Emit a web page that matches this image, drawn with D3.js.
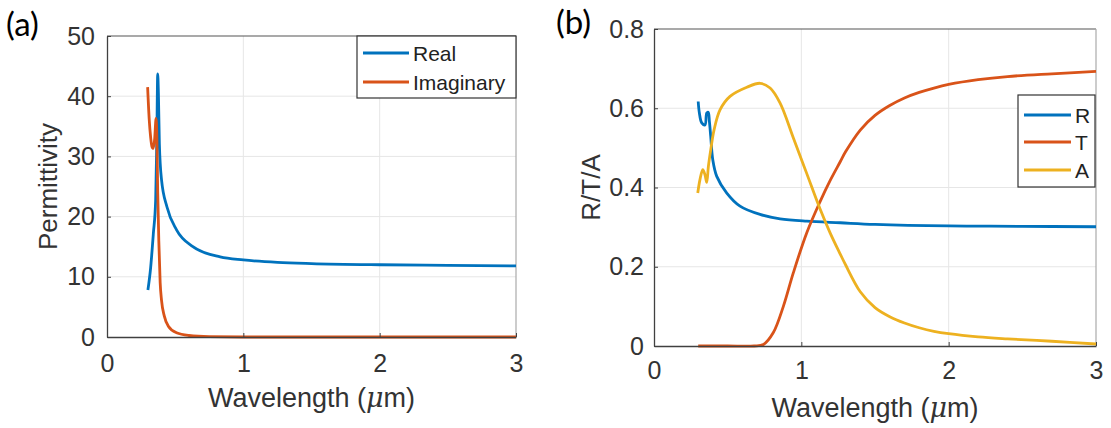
<!DOCTYPE html>
<html>
<head>
<meta charset="utf-8">
<script src="https://cdn.jsdelivr.net/npm/d3@7"></script>
<style>
body { margin: 0; background: #fff; }
</style>
</head>
<body>
<script>
// panel (a) data: permittivity
var realWl = [0.30, 0.32, 0.34, 0.357, 0.365, 0.372, 0.377, 0.384, 0.40, 0.44, 0.51, 0.63, 0.83, 1.0, 1.25, 1.5, 2.0, 2.5, 3.0];
var realVal = [7.8, 11.5, 17.2, 22.8, 32, 43.7, 40.5, 32.2, 26.1, 21.6, 17.8, 15.0, 13.3, 12.8, 12.4, 12.2, 12.0, 11.9, 11.8];
var imagWl = [0.298, 0.31, 0.32, 0.33, 0.338, 0.35, 0.36, 0.366, 0.372, 0.38, 0.39, 0.40, 0.42, 0.45, 0.51, 0.6, 0.75, 1.0, 2.0, 3.0];
var imagVal = [41.5, 36, 33.2, 31.6, 31.3, 33, 36.3, 33, 24, 16, 9, 6.1, 3.5, 1.8, 0.7, 0.25, 0.05, 0, 0, 0];

// panel (b) data: R/T/A
var rWl = [0.30, 0.308, 0.324, 0.346, 0.358, 0.368, 0.376, 0.385, 0.399, 0.426, 0.494, 0.584, 0.72, 0.856, 1.037, 1.264, 1.5, 2.0, 2.5, 3.0];
var rVal = [0.617, 0.588, 0.563, 0.558, 0.588, 0.59, 0.567, 0.529, 0.47, 0.428, 0.386, 0.353, 0.332, 0.321, 0.315, 0.311, 0.307, 0.303, 0.302, 0.301];
var tWl = [0.30, 0.5, 0.68, 0.743, 0.81, 0.878, 0.946, 1.037, 1.128, 1.196, 1.264, 1.3, 1.4, 1.5, 1.6, 1.7, 1.8, 1.9, 2.0, 2.2, 2.4, 2.7, 3.0];
var tVal = [0, 0, 0, 0.004, 0.034, 0.1, 0.185, 0.286, 0.365, 0.418, 0.465, 0.49, 0.545, 0.582, 0.607, 0.626, 0.64, 0.651, 0.66, 0.672, 0.68, 0.687, 0.693];
var aWl = [0.297, 0.312, 0.331, 0.346, 0.358, 0.369, 0.385, 0.408, 0.448, 0.516, 0.63, 0.72, 0.788, 0.856, 0.946, 1.037, 1.128, 1.196, 1.264, 1.3, 1.4, 1.5, 1.6, 1.7, 1.8, 1.9, 2.0, 2.2, 2.4, 2.7, 3.0];
var aVal = [0.386, 0.42, 0.445, 0.432, 0.413, 0.453, 0.495, 0.546, 0.596, 0.63, 0.653, 0.663, 0.651, 0.613, 0.525, 0.435, 0.345, 0.285, 0.232, 0.205, 0.137, 0.097, 0.074, 0.058, 0.046, 0.037, 0.031, 0.023, 0.018, 0.012, 0.005];

var xTicks = [0, 1, 2, 3];
var aTicks = [0, 10, 20, 30, 40, 50];
var bTicks = [0, 0.2, 0.4, 0.6, 0.8];

var blue = "#0072bd", orange = "#d95319", yellow = "#edb120";
var font = "'Liberation Sans', Arial, sans-serif";

var svg = d3.select("body")
	.append("svg")
	.attr("width", 1111)
	.attr("height", 428);

function zip(xs, ys) {
	return xs.map(function(x, i) { return [x, ys[i]]; });
}

function drawPanel(p) {
	var x = d3.scaleLinear().domain([0, 3]).range([p.left, p.right]);
	var y = d3.scaleLinear().domain(p.yDomain).range([p.bottom, p.top]);
	var g = svg.append("g");

	// grid
	g.selectAll(".gx").data(xTicks.slice(1, -1)).enter().append("line")
		.attr("x1", function(d) { return x(d); })
		.attr("x2", function(d) { return x(d); })
		.attr("y1", p.top).attr("y2", p.bottom)
		.attr("stroke", "#e6e6e6").attr("stroke-width", 1);
	g.selectAll(".gy").data(p.yTicks.slice(1, -1)).enter().append("line")
		.attr("y1", function(d) { return y(d); })
		.attr("y2", function(d) { return y(d); })
		.attr("x1", p.left).attr("x2", p.right)
		.attr("stroke", "#e6e6e6").attr("stroke-width", 1);

	// box top / right
	g.append("line").attr("x1", p.left).attr("x2", p.right).attr("y1", p.top).attr("y2", p.top)
		.attr("stroke", "#555").attr("stroke-width", 1.2);
	g.append("line").attr("x1", p.right).attr("x2", p.right).attr("y1", p.top).attr("y2", p.bottom)
		.attr("stroke", "#aaa").attr("stroke-width", 1.2);

	var line = d3.line()
		.x(function(d) { return x(d[0]); })
		.y(function(d) { return y(d[1]); })
		.curve(p.curve);

	p.series.forEach(function(s) {
		g.append("path")
			.attr("d", line(zip(s.wl, s.val)))
			.attr("fill", "none")
			.attr("stroke", s.color)
			.attr("stroke-width", 2.8)
			.attr("stroke-linejoin", "round");
	});

	var xAxis = g.append("g")
		.attr("transform", "translate(0," + p.bottom + ")")
		.call(d3.axisBottom(x).tickValues(xTicks).tickFormat(d3.format("d"))
			.tickSizeInner(-4).tickSizeOuter(0).tickPadding(p.xPad));
	var yAxis = g.append("g")
		.attr("transform", "translate(" + p.left + ",0)")
		.call(d3.axisLeft(y).tickValues(p.yTicks).tickFormat(p.yFormat)
			.tickSizeInner(-4).tickSizeOuter(0).tickPadding(p.yPad));
	[xAxis, yAxis].forEach(function(a) {
		a.select(".domain").attr("stroke", "#404040").attr("stroke-width", 1.3);
		a.selectAll(".tick line").attr("stroke", "#404040");
		a.selectAll("text").attr("font-family", font).attr("font-size", "25px").attr("fill", "#333");
	});

	// axis labels
	var xl = g.append("text")
		.attr("x", (p.left + p.right) / 2)
		.attr("y", p.xLabelY)
		.attr("text-anchor", "middle")
		.attr("font-family", font)
		.attr("font-size", "27px")
		.attr("fill", "#333");
	xl.append("tspan").text("Wavelength (");
	xl.append("tspan").text("μ").attr("font-style", "italic").attr("font-family", "'DejaVu Serif', serif");
	xl.append("tspan").text("m)");

	g.append("text")
		.attr("transform", "translate(" + p.yLabelX + "," + (p.top + p.bottom) / 2 + ") rotate(-90)")
		.attr("text-anchor", "middle")
		.attr("font-family", font)
		.attr("font-size", "26px")
		.attr("fill", "#333")
		.text(p.yLabel);

	// panel tag
	g.append("text")
		.attr("x", p.tagX).attr("y", p.tagY)
		.attr("font-family", "Lato, 'Open Sans', sans-serif")
		.attr("font-size", "33px")
		.attr("fill", "#000")
		.text(p.tag);

	// legend
	var L = p.legend;
	g.append("rect")
		.attr("x", L.x).attr("y", L.y).attr("width", L.w).attr("height", L.h)
		.attr("fill", "#fff").attr("stroke", "#333").attr("stroke-width", 1.2);
	p.series.forEach(function(s, i) {
		var ry = L.rows[i];
		g.append("line")
			.attr("x1", L.x1).attr("x2", L.x2).attr("y1", ry).attr("y2", ry)
			.attr("stroke", s.color).attr("stroke-width", 2.8);
		g.append("text")
			.attr("x", L.x2 + 4).attr("y", ry + 7.5)
			.attr("font-family", font)
			.attr("font-size", "21px")
			.attr("fill", "#222")
			.text(s.name);
	});
}

drawPanel({
	left: 107, right: 516, top: 36, bottom: 337,
	yDomain: [0, 50], yTicks: aTicks, yFormat: d3.format("d"),
	xPad: 17, yPad: 12, xLabelY: 407, yLabelX: 57,
	yLabel: "Permittivity", tag: "(a)", tagX: 6, tagY: 36,
	curve: d3.curveMonotoneX,
	series: [
		{ name: "Real", wl: realWl, val: realVal, color: blue },
		{ name: "Imaginary", wl: imagWl, val: imagVal, color: orange }
	],
	legend: { x: 357, y: 36, w: 159, h: 62, x1: 363, x2: 409, rows: [53, 82] }
});

drawPanel({
	left: 654, right: 1096, top: 29, bottom: 346,
	yDomain: [0, 0.8], yTicks: bTicks, yFormat: function(d) { return d === 0 ? "0" : d3.format(".1f")(d); },
	xPad: 15, yPad: 10, xLabelY: 417, yLabelX: 600,
	yLabel: "R/T/A", tag: "(b)", tagX: 556, tagY: 34,
	curve: d3.curveCatmullRom.alpha(0.5),
	series: [
		{ name: "R", wl: rWl, val: rVal, color: blue },
		{ name: "T", wl: tWl, val: tVal, color: orange },
		{ name: "A", wl: aWl, val: aVal, color: yellow }
	],
	legend: { x: 1018, y: 95, w: 77, h: 92, x1: 1024, x2: 1071, rows: [115, 142, 170] }
});
</script>
</body>
</html>
